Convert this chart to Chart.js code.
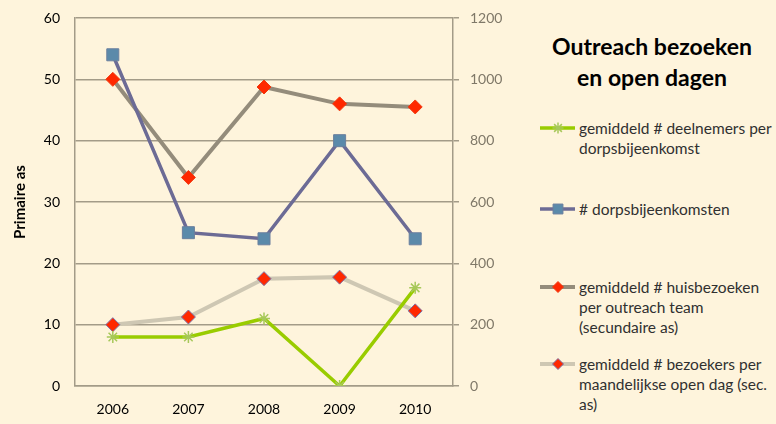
<!DOCTYPE html>
<html>
<head>
<meta charset="utf-8">
<script src="https://cdn.jsdelivr.net/npm/chart.js@4.4.0/dist/chart.umd.min.js"></script>
<style>
body{margin:0;background:#fef4dc;width:776px;height:424px;overflow:hidden;font-family:Lato,sans-serif;position:relative}
#wrap{position:absolute;left:0;top:0;width:520px;height:424px}
#title{position:absolute;left:528px;width:248px;top:31px;text-align:center;font-weight:bold;font-size:23px;line-height:31px;color:#000}
.item{position:absolute;left:540px;width:236px;font-size:15.5px;line-height:20px;color:#303030}
.item canvas{position:absolute;left:0;top:2px}
.item span{display:block;margin-left:39px;white-space:nowrap}
</style>
</head>
<body>
<div id="wrap"><canvas id="myChart"></canvas></div>
<div id="title">Outreach bezoeken<br>en open dagen</div>
<div id="legend"></div>
<script>
const years = ['2006', '2007', '2008', '2009', '2010'];
const deelnemers = [8, 8, 11, 0, 16];
const bijeenkomsten = [54, 25, 24, 40, 24];
const huisbezoeken = [1000, 680, 975, 920, 910];
const bezoekers = [200, 225, 350, 355, 245];
const names = [
    'gemiddeld # deelnemers per dorpsbijeenkomst',
    '# dorpsbijeenkomsten',
    'gemiddeld # huisbezoeken per outreach team (secundaire as)',
    'gemiddeld # bezoekers per maandelijkse open dag (sec. as)'
];
const legendLines = [
    ['gemiddeld # deelnemers per', 'dorpsbijeenkomst'],
    ['# dorpsbijeenkomsten'],
    ['gemiddeld # huisbezoeken', 'per outreach team', '(secundaire as)'],
    ['gemiddeld # bezoekers per', 'maandelijkse open dag (sec.', 'as)']
];
const primaryMax = 60;
const secondaryMax = 1200;

const gridColor = '#a39b88';

const data = {
    labels: years,
    datasets: [{
        label: names[0],
        data: deelnemers,
        yAxisID: 'y',
        borderColor: '#99cc00',
        borderWidth: 3.5,
        pointStyle: 'star',
        pointRadius: 6,
        pointBorderColor: '#a7c85a',
        pointBorderWidth: 1.5,
        tension: 0
    }, {
        label: names[1],
        data: bijeenkomsten,
        yAxisID: 'y',
        borderColor: '#6c6b95',
        borderWidth: 3.5,
        pointStyle: 'rect',
        pointRadius: 8.5,
        pointBackgroundColor: '#5b8aaa',
        pointBorderColor: '#6b7f9e',
        pointBorderWidth: 1,
        tension: 0
    }, {
        label: names[2],
        data: huisbezoeken,
        yAxisID: 'y1',
        borderColor: '#948c7b',
        borderWidth: 4,
        pointStyle: 'rectRot',
        pointRadius: 7,
        pointBackgroundColor: '#ff2800',
        pointBorderColor: '#f03a10',
        pointBorderWidth: 1,
        tension: 0
    }, {
        label: names[3],
        data: bezoekers,
        yAxisID: 'y1',
        borderColor: '#cec7b3',
        borderWidth: 4,
        pointStyle: 'rectRot',
        pointRadius: 7,
        pointBackgroundColor: '#ff2800',
        pointBorderColor: '#7c70a6',
        pointBorderWidth: 1,
        tension: 0
    }]
};

const config = {
    type: 'line',
    data: data,
    options: {
        responsive: true,
        maintainAspectRatio: false,
        animation: false,
        layout: { padding: { top: 18, left: 0, right: 0, bottom: 0 } },
        plugins: {
            legend: { display: false },
            tooltip: { enabled: false }
        },
        scales: {
            x: {
                offset: true,
                grid: { display: false, drawTicks: false },
                border: { display: true, color: gridColor, width: 1.5 },
                ticks: { color: '#000', font: { family: 'Lato', size: 14 }, padding: 15 },
                afterFit: (s) => { s.height = 38; s.paddingLeft = 0; s.paddingRight = 0; }
            },
            y: {
                position: 'left',
                min: 0,
                max: primaryMax,
                ticks: { stepSize: 10, color: '#000', font: { family: 'Lato', size: 14 }, padding: 15 },
                grid: { color: gridColor, lineWidth: 1.5, drawTicks: false },
                border: { display: true, color: gridColor, width: 1.5 },
                title: { display: true, text: 'Primaire as', color: '#000', font: { family: 'Lato', size: 15, weight: 'bold' }, padding: { top: 11, bottom: 0 } },
                afterFit: (s) => { s.width = 75; s.paddingTop = 0; s.paddingBottom = 0; }
            },
            y1: {
                position: 'right',
                min: 0,
                max: secondaryMax,
                ticks: { stepSize: 200, color: '#7f7868', font: { family: 'Lato', size: 14 }, padding: 11, callback: (v) => String(v) },
                grid: { drawOnChartArea: false, color: gridColor, lineWidth: 1.5, tickLength: 6 },
                border: { display: true, color: gridColor, width: 1.5 },
                afterFit: (s) => { s.width = 67; s.paddingTop = 0; s.paddingBottom = 0; }
            }
        }
    }
};

const myChart = new Chart(document.getElementById('myChart'), config);

// legend on the right, built from the datasets
const itemTops = [118, 199, 277, 354];
const legend = document.getElementById('legend');
data.datasets.forEach((ds, i) => {
    const div = document.createElement('div');
    div.className = 'item';
    div.style.top = itemTops[i] + 'px';
    const c = document.createElement('canvas');
    c.width = 36; c.height = 16;
    div.appendChild(c);
    const span = document.createElement('span');
    span.innerHTML = legendLines[i].join('<br>');
    div.appendChild(span);
    legend.appendChild(div);

    const ctx = c.getContext('2d');
    ctx.strokeStyle = ds.borderColor;
    ctx.lineWidth = ds.borderWidth;
    ctx.beginPath();
    ctx.moveTo(0, 8);
    ctx.lineTo(35, 8);
    ctx.stroke();
    ctx.fillStyle = ds.pointBackgroundColor || ds.borderColor;
    ctx.strokeStyle = ds.pointBorderColor;
    ctx.lineWidth = ds.pointBorderWidth;
    Chart.helpers.drawPoint(ctx, {
        pointStyle: ds.pointStyle,
        radius: ds.pointStyle === 'rect' ? 7 : 5.5,
        borderWidth: ds.pointBorderWidth,
        rotation: 0
    }, 18, 8);
});
</script>
</body>
</html>
